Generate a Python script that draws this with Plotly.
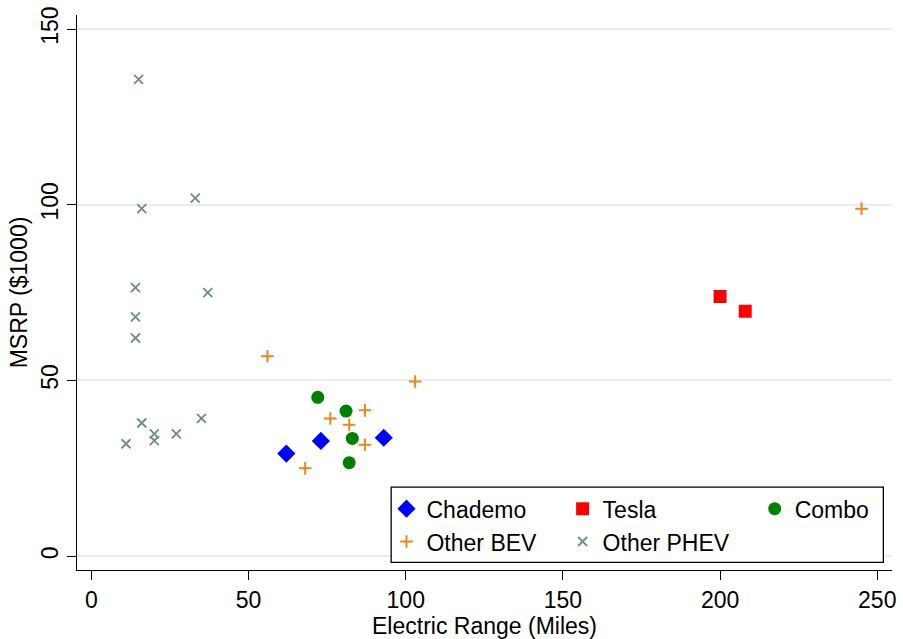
import plotly.graph_objects as go

# ---- data ----
chademo_range = [62, 73, 93]
chademo_msrp = [29.2, 32.8, 33.7]

tesla_range = [200, 208]
tesla_msrp = [73.9, 69.7]

combo_range = [72, 81, 83, 82]
combo_msrp = [45.2, 41.3, 33.5, 26.6]

bev_range = [56, 103, 87, 76, 82, 87, 68, 245]
bev_msrp = [56.9, 49.7, 41.5, 39.2, 37.4, 31.7, 25.0, 98.9]

phev_range = [15, 16, 33, 14, 37, 14, 14, 16, 35, 20, 20, 27, 11]
phev_msrp = [135.7, 98.9, 101.9, 76.4, 75.0, 68.1, 62.1, 37.9, 39.2, 34.8, 32.9, 34.8, 32.0]

x_ticks = [0, 50, 100, 150, 200, 250]
y_ticks = [0, 50, 100, 150]

FONT = "Liberation Sans, Arial, Helvetica, sans-serif"
FS = 23

fig = go.Figure()

fig.add_trace(go.Scatter(
    x=chademo_range, y=chademo_msrp, mode="markers", name="Chademo",
    marker=dict(symbol="diamond", size=14, color="#0000ff", line=dict(width=0)),
    legend="legend"))
fig.add_trace(go.Scatter(
    x=bev_range, y=bev_msrp, mode="markers", name="Other BEV",
    marker=dict(symbol="cross-thin-open", size=9, color="#e8871e", line=dict(width=2, color="#e8871e")),
    legend="legend"))
fig.add_trace(go.Scatter(
    x=tesla_range, y=tesla_msrp, mode="markers", name="Tesla",
    marker=dict(symbol="square", size=13, color="#ff0000", line=dict(width=0)),
    legend="legend2"))
fig.add_trace(go.Scatter(
    x=phev_range, y=phev_msrp, mode="markers", name="Other PHEV",
    marker=dict(symbol="x-thin-open", size=9, color="#6e9183", line=dict(width=1.9, color="#6e9183")),
    legend="legend2"))
fig.add_trace(go.Scatter(
    x=combo_range, y=combo_msrp, mode="markers", name="Combo",
    marker=dict(symbol="circle", size=13, color="#008000", line=dict(width=0)),
    legend="legend3"))

L, R, T, B = 77, 7, 11, 65
W, H = 903, 639
pw, ph = W - L - R, H - T - B

def px_x(p):
    return (p - L) / pw

def px_y(p):
    return (H - B - p) / ph

leg_common = dict(orientation="v", bgcolor="rgba(0,0,0,0)", borderwidth=0,
                  font=dict(family=FONT, size=FS, color="black"),
                  xanchor="left", yanchor="top", traceorder="normal")

fig.update_layout(
    width=W, height=H,
    margin=dict(l=L, r=R, t=T, b=B),
    paper_bgcolor="white", plot_bgcolor="white",
    font=dict(family=FONT, size=FS, color="black"),
    showlegend=True,
    legend=dict(x=px_x(388), y=px_y(490), **leg_common),
    legend2=dict(x=px_x(565), y=px_y(490), **leg_common),
    legend3=dict(x=px_x(758), y=px_y(490), **leg_common),
    xaxis=dict(
        range=[-4.6, 254.7], tickvals=x_ticks, ticks="outside", ticklen=9,
        tickwidth=1, tickcolor="black", showline=True, linecolor="black",
        linewidth=1, showgrid=False, zeroline=False,
        tickfont=dict(family=FONT, size=FS, color="black"),
        title=dict(text="Electric Range (Miles)", standoff=3,
                   font=dict(family=FONT, size=FS, color="black")),
    ),
    yaxis=dict(
        range=[-3.93, 154.0], tickvals=y_ticks, ticks="outside", ticklen=9,
        tickwidth=1, tickcolor="black", showline=True, linecolor="black",
        linewidth=1, showgrid=True, gridcolor="#e6eef1", gridwidth=1.5,
        zeroline=False, tickangle=-90,
        tickfont=dict(family=FONT, size=FS, color="black"),
        title=dict(text="MSRP ($1000)", standoff=2,
                   font=dict(family=FONT, size=FS, color="black")),
    ),
    shapes=[dict(type="rect", xref="paper", yref="paper",
                 x0=px_x(392.7), x1=px_x(887.3), y0=px_y(566.3), y1=px_y(490),
                 line=dict(color="black", width=1.3), fillcolor="white",
                 layer="above")],
)

fig.write_html("out.html", config={"displayModeBar": False})
